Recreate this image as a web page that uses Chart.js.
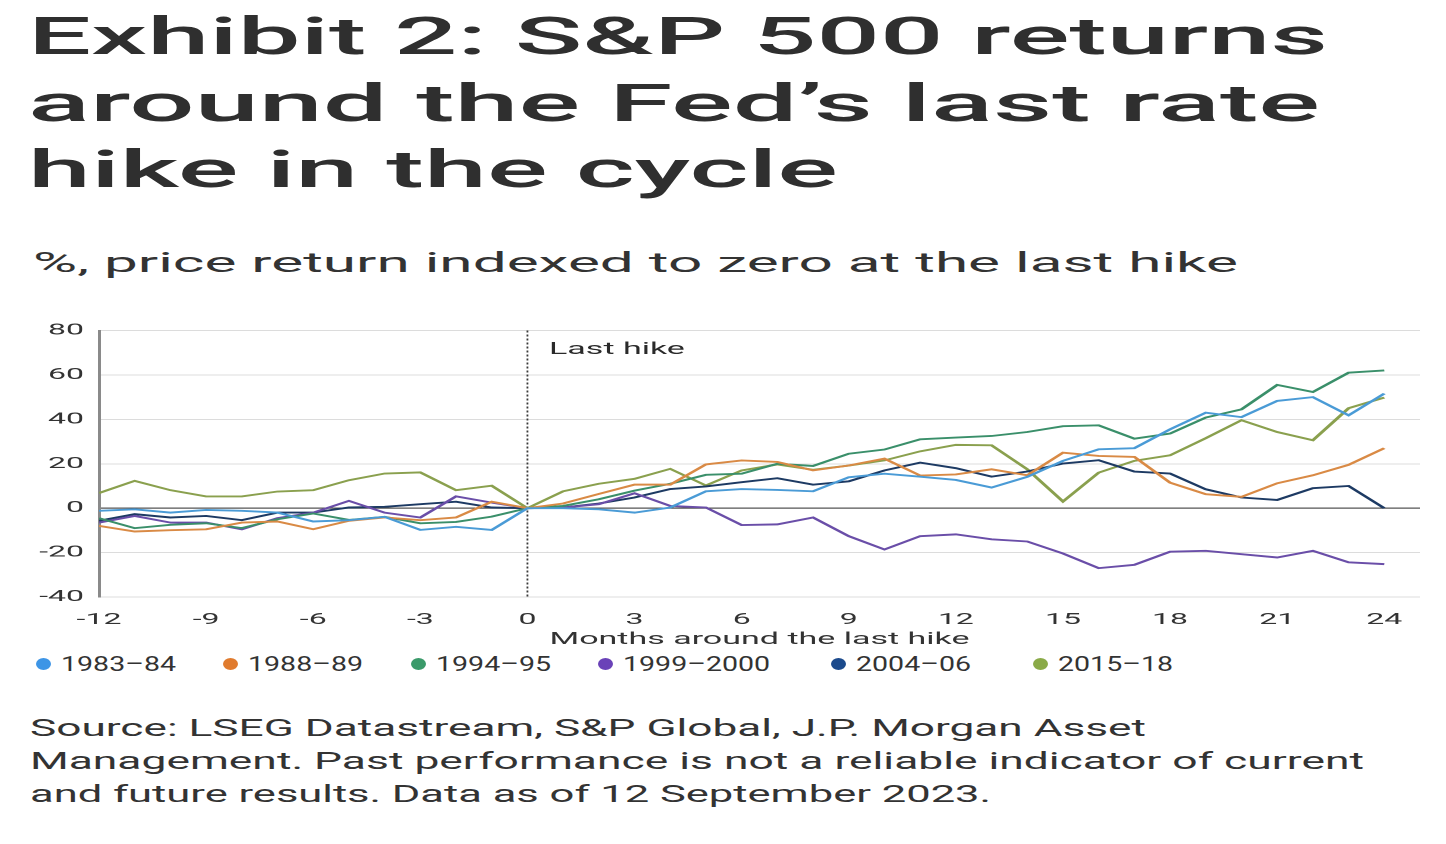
<!DOCTYPE html>
<html><head><meta charset="utf-8">
<script src="https://cdn.jsdelivr.net/npm/chart.js@4.4.1/dist/chart.umd.min.js"></script>
<style>
html,body{margin:0;padding:0;background:#fff;width:1446px;height:844px;overflow:hidden;}
body{position:relative;font-family:Roboto,"Liberation Sans",Arial,sans-serif;color:#2e2e2e;}
.fit{position:absolute;white-space:nowrap;transform-origin:0 0;display:inline-block;}
.title{font-size:52px;font-weight:500;line-height:66.5px;color:#2f2f2f;left:28px;}
.sub{font-size:28px;line-height:34px;left:33px;top:246.4px;color:#333;}
.src{font-size:24px;line-height:33.3px;left:30px;color:#333;}
.legtxt{font-size:20px;line-height:24px;top:651.8px;color:#333;}
.dot{position:absolute;width:15px;height:12px;border-radius:50%;top:658px;}
#chartWrap{position:absolute;left:0;top:315px;width:723px;height:333px;transform:scaleX(2);transform-origin:0 0;}
</style>
</head><body>
<div id="titleBox"></div>
<div class="fit sub" data-w="1205">%, price return indexed to zero at the last hike</div>
<div id="chartWrap"><canvas id="c" width="723" height="333"></canvas></div>
<div id="legend"></div>
<div id="srcBox"></div>
<script>
// ---- data ----
const months = [-12,-11,-10,-9,-8,-7,-6,-5,-4,-3,-2,-1,0,1,2,3,4,5,6,7,8,9,10,11,12,13,14,15,16,17,18,19,20,21,22,23,24];
const seriesNames = ['1983–84','1988–89','1994–95','1999–2000','2004–06','2015–18'];
const s1983 = [-1.2,-0.5,-2,-0.8,-1.2,-2,-6,-5.4,-3.9,-9.8,-8.4,-9.8,0, 0,-0.5,-2,0.3,7.6,8.6,8.2,7.6,13.9,15.5,14.2,12.7, 9.3,14.1,21.3,26.5,27,35.5,43,41,48.3,50,41.8,51.6];
const s1988 = [-8,-10.5,-9.9,-9.5,-6.5,-6,-9.5,-5.7,-4.2,-5.4,-4.2,2.9,0, 2.1,6.4,10.6,10.6,19.7,21.5,20.8,17,19.2,22.3,14.7,15.2, 17.5,14.8,25,23.5,23.1,11.5,6.3,5.1,11.2,14.8,19.5,27];
const s1994 = [-4.5,-9,-7.5,-6.8,-9,-5,-2.4,-5.3,-3.9,-6.8,-6.2,-3.8,0, 1,4,7.9,11,15,15.5,20,19,24.5,26.4,31,31.8, 32.5,34.3,36.9,37.3,31.3,33.6,40.8,44.5,55.5,52.3,61,62];
const s1999 = [-6.5,-3.5,-6.5,-6.5,-9.5,-4.5,-2,3.3,-2,-4.2,5.3,2.5,0, 0.3,1.8,6.7,1,0.3,-7.6,-7.3,-4.2,-12.6,-18.6,-12.6,-11.8, -14,-15,-20.4,-27,-25.5,-19.6,-19.2,-20.7,-22.2,-19.2,-24.4,-25.2];
const s2004 = [-5.7,-2.7,-4.2,-3.5,-5.4,-2,-2,0.3,0.6,1.8,2.9,0.3,0, 0.3,2.1,4.8,8.6,9.8,11.7,13.5,10.6,12.1,17,20.5,18, 14.2,16.5,20.1,21.6,16.5,15.6,8.5,4.8,3.7,9,10,0];
const s2015 = [6.8,12.3,8.1,5.3,5.3,7.5,8.1,12.6,15.6,16.1,8.1,10.1,0, 7.6,11,13.2,17.7,10.2,17,19.7,17.3,19.2,21.5,25.6,28.5, 28.3,17.5,3,16,21.3,23.8,31.5,39.6,34.3,30.6,45,49.8];
const xTicks = [-12,-9,-6,-3,0,3,6,9,12,15,18,21,24];
const yTicks = [-40,-20,0,20,40,60,80];
const titleLines = ['Exhibit 2: S&P 500 returns','around the Fed’s last rate','hike in the cycle'];
const sourceLines = ['Source: LSEG Datastream, S&P Global, J.P. Morgan Asset','Management. Past performance is not a reliable indicator of current','and future results. Data as of 12 September 2023.'];

// ---- styles ----
const lineColors = ['#4a9bd6','#d98a45','#3a8f6a','#6a4ea8','#1d3a63','#8aa04e'];
const dotColors  = ['#3d95e6','#e07b2e','#3a9a6a','#6a42b8','#1b4a8c','#8aaa48'];
const titleW = [1300,1292,810];
const sourceW = [1116,1334,961];
const legendX = [43,230,418,605,838,1040];

// build text
const tb = document.getElementById('titleBox');
titleLines.forEach((t,i)=>{const d=document.createElement('div');d.className='fit title';d.style.top=(4+i*66.5)+'px';d.dataset.w=titleW[i];d.textContent=t;tb.appendChild(d);});
const sb = document.getElementById('srcBox');
sourceLines.forEach((t,i)=>{const d=document.createElement('div');d.className='fit src';d.style.top=(711.8+i*33.3)+'px';d.dataset.w=sourceW[i];d.textContent=t;sb.appendChild(d);});
const lg = document.getElementById('legend');
seriesNames.forEach((n,i)=>{
  const dot=document.createElement('div');dot.className='dot';dot.style.left=(legendX[i]-7.5)+'px';dot.style.background=dotColors[i];lg.appendChild(dot);
  const t=document.createElement('div');t.className='fit legtxt';t.style.left=(legendX[i]+18)+'px';t.textContent=n;lg.appendChild(t);
});
function fitAll(){
  document.querySelectorAll('.fit[data-w]').forEach(el=>{el.style.transform='none';const w=el.getBoundingClientRect().width;el.style.transform='scaleX('+(+el.dataset.w/w)+')';});
  const legs=[...document.querySelectorAll('.legtxt')];
  legs.forEach(e=>e.style.transform='none');
  const k=115/legs[0].getBoundingClientRect().width;
  legs.forEach(e=>e.style.transform='scaleX('+k+')');
}
fitAll();

// ---- chart ----
const all=[s1983,s1988,s1994,s1999,s2004,s2015];
const datasets = all.map((arr,i)=>({label:seriesNames[i],data:arr.map((v,j)=>({x:months[j],y:v})),borderColor:lineColors[i],backgroundColor:lineColors[i],borderWidth:1.9,pointRadius:0,tension:0,fill:false}));
const lastHike={id:'lastHike',
  beforeDatasetsDraw(chart){const {ctx,chartArea,scales}=chart;const x=scales.x.getPixelForValue(0);ctx.save();ctx.strokeStyle='#3a3a3a';ctx.lineWidth=0.9;ctx.setLineDash([2,2]);ctx.beginPath();ctx.moveTo(x,chartArea.top);ctx.lineTo(x,chartArea.bottom);ctx.stroke();ctx.restore();},
  afterDatasetsDraw(chart){const {ctx,chartArea,scales}=chart;const x=scales.x.getPixelForValue(0);ctx.save();ctx.font='17px Roboto';ctx.fillStyle='#2a2a2a';ctx.textAlign='left';ctx.textBaseline='middle';ctx.fillText('Last hike',x+10.8,chartArea.top+19);ctx.restore();}
};
new Chart(document.getElementById('c'),{
  type:'line',
  data:{datasets},
  plugins:[lastHike],
  options:{
    responsive:false,animation:false,devicePixelRatio:2,
    layout:{padding:{top:9,right:13,left:0,bottom:0}},
    plugins:{legend:{display:false},tooltip:{enabled:false}},
    scales:{
      x:{type:'linear',min:-12,max:25,
        afterBuildTicks:s=>{s.ticks=xTicks.map(v=>({value:v}));},
        afterFit:s=>{s.height=51;},
        grid:{display:false},border:{display:false},
        ticks:{autoSkip:false,maxRotation:0,padding:7,color:'#333',font:{family:'Roboto',size:16,lineHeight:1},callback:v=>String(v)},
        title:{display:true,text:'Months around the last hike',color:'#333',font:{family:'Roboto',size:17,lineHeight:1},padding:{top:0,bottom:0}}
      },
      y:{min:-40,max:80,
        afterBuildTicks:s=>{s.ticks=yTicks.map(v=>({value:v}));},
        afterFit:s=>{s.width=49.5;},
        grid:{drawTicks:false,color:c=>c.tick&&c.tick.value===0?'#555':'#dcdcdc',lineWidth:c=>c.tick&&c.tick.value===0?1.2:1},
        border:{display:true,color:'#8a8a8a',width:1.5},
        ticks:{padding:7.5,color:'#333',font:{family:'Roboto',size:16,lineHeight:1},callback:v=>String(v)}
      }
    }
  }
});
</script>
</body></html>
